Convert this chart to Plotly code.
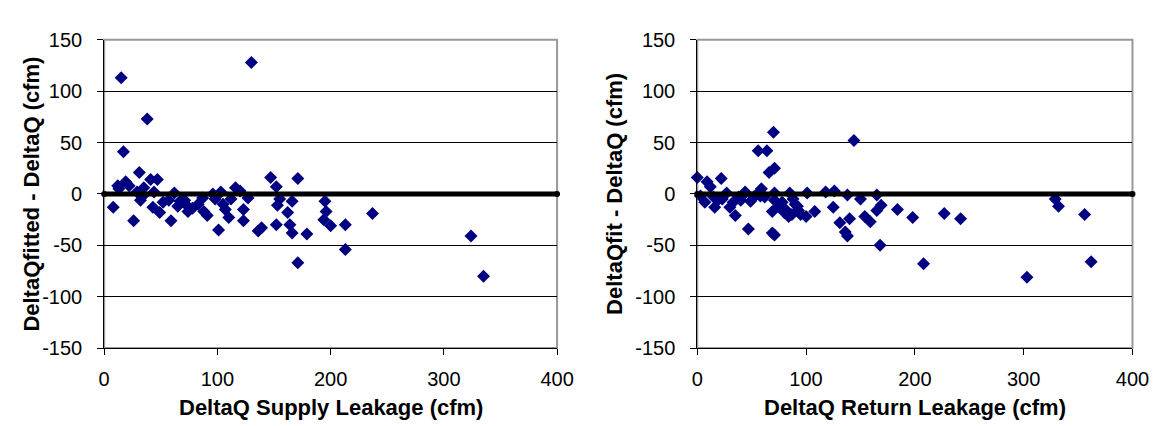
import plotly.graph_objects as go
from plotly.subplots import make_subplots

# ---- data ----
supply_x = [8, 12, 13, 15, 17, 19, 22, 26, 29, 31, 32, 34, 35, 38, 41, 43, 44, 47, 49, 52,
            57, 59, 62, 65, 67, 71, 72, 74, 78, 83, 87, 88, 91, 96, 98, 101, 103, 105, 107,
            110, 112, 116, 120, 123, 123, 127, 130, 136, 139, 147, 152, 155, 153, 152, 162,
            166, 164, 166, 171, 171, 179, 195, 196, 194, 200, 213, 213, 237, 324, 335]
supply_y = [-13, 8, 5, 113, 41, 12, 8, -26, 2, 21, -6, -2, 6, 73, 14, -13, 2, 14, -18, -8,
            -6, -26, 1, -12, -7, -6, -10, -17, -14, -10, -4, -17, -21, 0, -5, -35, 2, -10, -15,
            -23, -5, 6, 3, -15, -26, -4, 128, -36, -33, 16, 7, -5, -11, -30, -18,
            -7, -30, -38, 15, -67, -39, -7, -17, -25, -31, -30, -54, -19, -41, -80]

return_x = [0, 3, 7, 9, 12, 15, 16, 20, 22, 23, 27, 30, 33, 35, 38, 40, 42, 44, 47, 49,
            52, 55, 56, 58, 59, 62, 64, 66, 69, 69, 70, 71, 71, 71, 71, 75, 78, 80, 82, 84,
            85, 87, 88, 90, 92, 93, 95, 100, 101, 108, 118, 125, 126, 131, 136, 138, 138,
            140, 144, 150, 154, 159, 165, 165, 168, 169, 184, 198, 208, 227, 242, 303, 329,
            332, 356, 362]
return_y = [16, -2, -8, 12, 7, -3, -13, -5, 15, -5, 1, -13, -8, -21, -3, -6, -1, 2, -34, -7,
            -3, 0, 42, -2, 5, -3, 42, 21, -17, -38, 60, 25, 1, -40, -6, -12, -8, -18, -16, -22,
            1, -20, -5, -10, -12, -16, -20, -22, 1, -17, 2, -13, 3, -28, -37, -41, -1,
            -24, 52, -5, -22, -27, -1, -16, -50, -11, -15, -23, -68, -19, -24, -81, -5,
            -12, -20, -66]

x_ticks = [0, 100, 200, 300, 400]
x_tick_text = ["0", "100", "200", "300", "400"]
y_ticks = [-150, -100, -50, 0, 50, 100, 150]
y_tick_text = ["-150", "-100", "-50", "0", "50", "100", "150"]
zero_x = [0, 400]
zero_y = [0, 0]

left_title_x = "DeltaQ Supply Leakage (cfm)"
left_title_y = "DeltaQfitted - DeltaQ (cfm)"
right_title_x = "DeltaQ Return Leakage (cfm)"
right_title_y = "DeltaQfit - DeltaQ (cfm)"

W, H = 1166, 426
FONT = "Liberation Sans, Arial, sans-serif"
NAVY = "#000080"

fig = make_subplots(rows=1, cols=2)

for col, (xs, ys) in enumerate([(supply_x, supply_y), (return_x, return_y)], start=1):
    fig.add_trace(go.Scatter(x=xs, y=ys, mode="markers",
                             marker=dict(symbol="diamond", size=10, color=NAVY,
                                         line=dict(width=0)),
                             showlegend=False, cliponaxis=False), row=1, col=col)
    fig.add_trace(go.Scatter(x=zero_x, y=zero_y, mode="lines+markers",
                             line=dict(color="black", width=5),
                             marker=dict(symbol="circle", size=6, color="black"),
                             showlegend=False, cliponaxis=False), row=1, col=col)

# plot area geometry (pixels)
y_top, y_bot = 22, 347
left_px = (92, 554)
right_px = (697, 1141)
ydom = [(H - y_bot) / H, (H - y_top) / H]

axis_common = dict(showline=True, linecolor="black", linewidth=1, ticks="outside",
                   ticklen=6, tickcolor="black", tickwidth=1, zeroline=False,
                   tickfont=dict(family=FONT, size=20, color="black"))

fig.update_xaxes(range=[0, 400], tickvals=x_ticks, ticktext=x_tick_text, showgrid=False,
                 ticklabelstandoff=7, **axis_common)
fig.update_yaxes(range=[-150, 150], tickvals=y_ticks, ticktext=y_tick_text,
                 showgrid=True, gridcolor="black",
                 gridwidth=1, ticklabelstandoff=11, **axis_common)

fig.update_layout(
    xaxis=dict(domain=[left_px[0] / W, left_px[1] / W]),
    xaxis2=dict(domain=[right_px[0] / W, right_px[1] / W]),
    yaxis=dict(domain=ydom),
    yaxis2=dict(domain=ydom),
)

shapes = []
for (x0, x1) in (left_px, right_px):
    shapes.append(dict(type="rect", xref="paper", yref="paper",
                       x0=x0 / W, x1=x1 / W, y0=ydom[0], y1=ydom[1],
                       line=dict(color="#999999", width=2), layer="below"))

annotations = []
title_font = dict(family=FONT, size=22, color="black")
for (x0, x1), tx, ty, yx in ((left_px, left_title_x, left_title_y, 18),
                              (right_px, right_title_x, right_title_y, 613)):
    annotations.append(dict(text="<b>%s</b>" % tx, xref="paper", yref="paper",
                            x=(x0 + x1) / 2 / W, y=(H - 410) / H, showarrow=False,
                            xanchor="center", yanchor="middle", font=title_font))
    annotations.append(dict(text="<b>%s</b>" % ty, xref="paper", yref="paper",
                            x=yx / W, y=(H - (y_top + y_bot) / 2) / H, showarrow=False,
                            xanchor="center", yanchor="middle", textangle=-90,
                            font=title_font))

fig.update_layout(width=W, height=H, margin=dict(l=0, r=0, t=0, b=0),
                  paper_bgcolor="white", plot_bgcolor="white",
                  shapes=shapes, annotations=annotations,
                  font=dict(family=FONT, color="black"))

fig.write_html("out.html", config={"displayModeBar": False})
